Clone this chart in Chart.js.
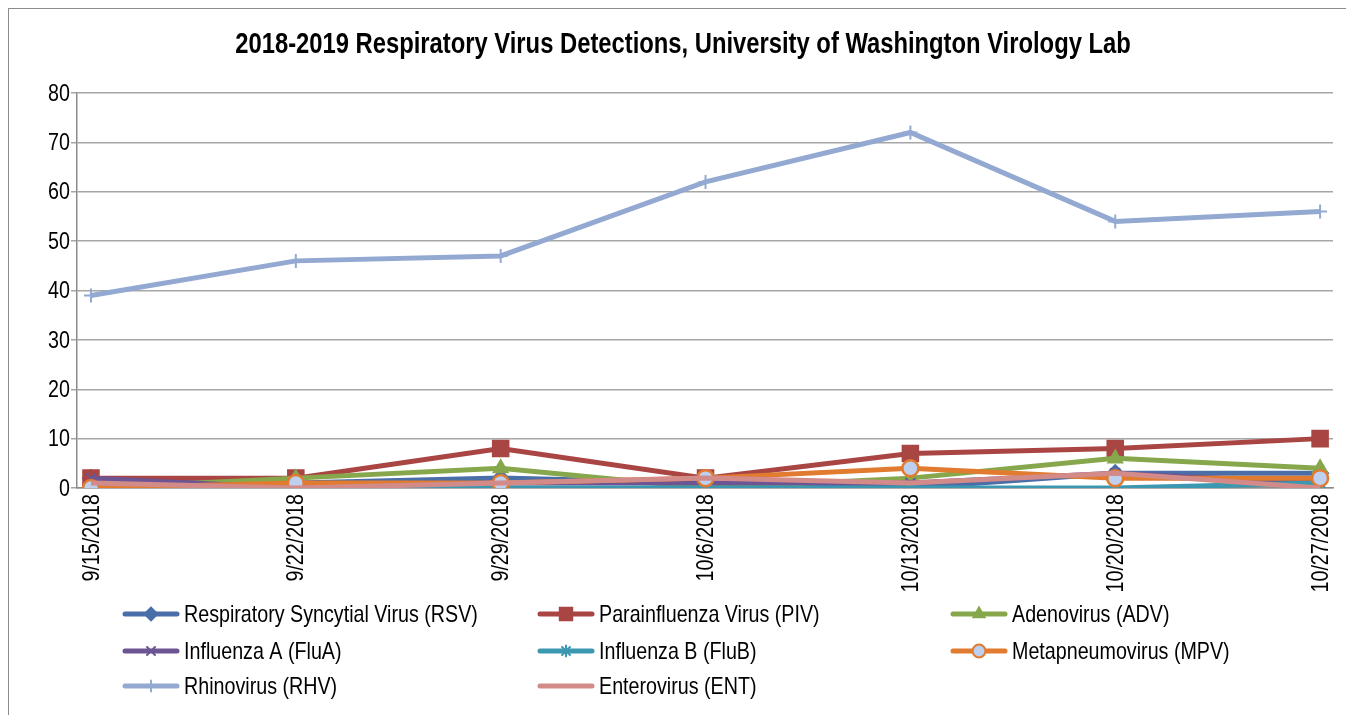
<!DOCTYPE html>
<html>
<head>
<meta charset="utf-8">
<script src="https://cdn.jsdelivr.net/npm/chart.js@4/dist/chart.umd.min.js"></script>
<style>
  html, body { margin: 0; padding: 0; background: #fff; }
  #wrap { position: relative; width: 1346px; height: 715px; }
  #frame { position: absolute; left: 8px; top: 8px; right: -2px; bottom: -2px; border-top: 1px solid #8c8c8c; border-left: 1px solid #8c8c8c; }
  canvas { position: absolute; left: 0; top: 0; }
</style>
</head>
<body>
<div id="wrap">
  <div id="frame"></div>
  <canvas id="chart" width="1346" height="715"></canvas>
</div>
<script>
// weekly detection counts
const weeks = ["9/15/2018", "9/22/2018", "9/29/2018", "10/6/2018", "10/13/2018", "10/20/2018", "10/27/2018"];
const yTicks = [0, 10, 20, 30, 40, 50, 60, 70, 80];

const rsv  = [2, 1, 2, 1, 0, 3, 3];
const piv  = [2, 2, 8, 2, 7, 8, 10];
const adv  = [0, 2, 4, 0, 2, 6, 4];
const fluA = [2, 0, 1, 1, 1, 3, 1];
const fluB = [0, 0, 0, 0, 0, 0, 1];
const mpv  = [0, 1, 1, 2, 4, 2, 2];
const rhv  = [39, 46, 47, 62, 72, 54, 56];
const ent  = [1, 0, 1, 2, 1, 3, 0];

const FONT = "'Liberation Sans', Arial, sans-serif";
const NARROW = 0.82; // squeeze to look like Arial Narrow

const series = [
  { label: "Respiratory Syncytial Virus (RSV)", data: rsv,  color: "#4a6fa8", style: "rectRot",  r: 8 },
  { label: "Parainfluenza Virus (PIV)",        data: piv,  color: "#a94543", style: "rect",     r: 11 },
  { label: "Adenovirus (ADV)",                 data: adv,  color: "#86a74b", style: "triangle", r: 8 },
  { label: "Influenza A (FluA)",               data: fluA, color: "#6d5594", style: "crossRot", r: 7 },
  { label: "Influenza B (FluB)",               data: fluB, color: "#3c98b0", style: "star",     r: 7 },
  { label: "Metapneumovirus (MPV)",            data: mpv,  color: "#e07b30", style: "circle",   r: 8 },
  { label: "Rhinovirus (RHV)",                 data: rhv,  color: "#93a9d1", style: "cross",    r: 7 },
  { label: "Enterovirus (ENT)",                data: ent,  color: "#d38b8a", style: false,      r: 0 }
];

const datasets = series.map((s, i) => ({
  label: s.label,
  data: s.data.map((v, j) => ({ x: j, y: v })),
  borderColor: s.color,
  backgroundColor: s.style === "circle" ? "#bfd0ee" : s.color,
  borderWidth: 5,
  tension: 0,
  pointStyle: s.style,
  pointRadius: s.r,
  pointHoverRadius: s.r,
  pointBorderColor: s.color,
  pointBackgroundColor: s.style === "circle" ? "#bfd0ee" : s.color,
  pointBorderWidth: s.style === "circle" ? 2.5 : 2,
  order: series.length - i
}));

function narrowText(ctx, text, x, y, align, rot) {
  ctx.save();
  ctx.translate(x, y);
  if (rot) ctx.rotate(rot);
  ctx.scale(NARROW, 1);
  ctx.textAlign = align;
  ctx.fillText(text, 0, 0);
  ctx.restore();
}

// title, tick labels and the grid legend drawn on the canvas
const decor = {
  id: "decor",
  afterDraw(chart) {
    const ctx = chart.ctx;
    const xs = chart.scales.x, ys = chart.scales.y;
    ctx.save();
    ctx.fillStyle = "#000";
    ctx.textBaseline = "middle";
    ctx.font = "bold 29px " + FONT;
    narrowText(ctx, "2018-2019 Respiratory Virus Detections, University of Washington Virology Lab", 683, 45, "center");

    ctx.font = "24px " + FONT;
    yTicks.forEach(v => narrowText(ctx, String(v), 70, ys.getPixelForValue(v) + 1, "right"));
    weeks.forEach((w, i) => narrowText(ctx, w, xs.getPixelForValue(i) + 1, ys.bottom + 6, "right", -Math.PI / 2));

    const colX = [125, 540, 953];
    const rowY = [614, 651, 686];
    series.forEach((s, i) => {
      const x = colX[i % 3], y = rowY[Math.floor(i / 3)];
      ctx.strokeStyle = s.color;
      ctx.lineWidth = 5;
      ctx.lineCap = "round";
      ctx.beginPath();
      ctx.moveTo(x, y);
      ctx.lineTo(x + 52, y);
      ctx.stroke();
      if (s.style) {
        ctx.fillStyle = s.style === "circle" ? "#bfd0ee" : s.color;
        ctx.strokeStyle = s.color;
        ctx.lineWidth = 2;
        Chart.helpers.drawPoint(ctx, { pointStyle: s.style, radius: s.r * 0.8, rotation: 0, borderWidth: 2 }, x + 26, y);
      }
      ctx.fillStyle = "#000";
      narrowText(ctx, s.label, x + 59, y + 1, "left");
    });
    ctx.restore();
  }
};

new Chart(document.getElementById("chart"), {
  type: "line",
  data: { datasets },
  plugins: [decor],
  options: {
    responsive: false,
    animation: false,
    layout: { padding: { top: 93, right: 2, bottom: 0, left: 0 } },
    plugins: { legend: { display: false }, title: { display: false }, tooltip: { enabled: false } },
    scales: {
      x: {
        type: "linear",
        min: -0.0682,
        max: 6.063,
        afterBuildTicks: (sc) => { sc.ticks = weeks.map((w, i) => ({ value: i })); },
        afterFit: (sc) => { sc.height = 227; },
        grid: { display: false },
        border: { display: true, color: "#8c8c8c", width: 1.5 },
        ticks: { display: false }
      },
      y: {
        min: 0,
        max: 80,
        afterBuildTicks: (sc) => { sc.ticks = yTicks.map(v => ({ value: v })); },
        afterFit: (sc) => { sc.width = 77; },
        grid: { color: "#a6a6a6", lineWidth: 1.5, tickLength: 6 },
        border: { display: true, color: "#8c8c8c", width: 1.5 },
        ticks: { display: false }
      }
    }
  }
});
</script>
</body>
</html>
